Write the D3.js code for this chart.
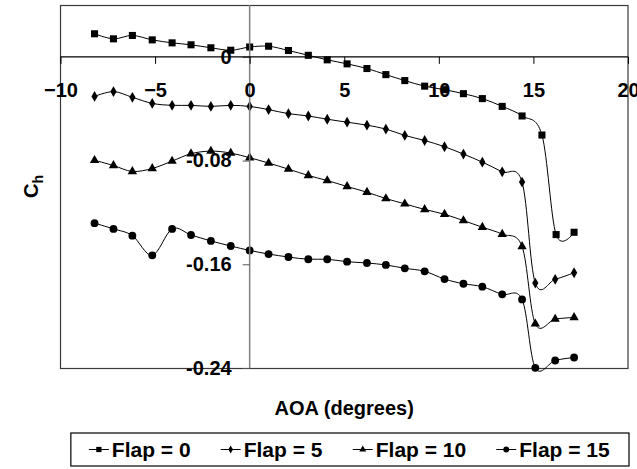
<!DOCTYPE html>
<html>
<head>
<meta charset="utf-8">
<script src="https://cdn.jsdelivr.net/npm/d3@7"></script>
<style>
  html, body { margin: 0; padding: 0; background: #fff; }
  svg { display: block; }
  text { font-family: "Liberation Sans", Arial, sans-serif; font-weight: bold; fill: #000; }
</style>
</head>
<body>
<svg id="chart" width="637" height="469"></svg>
<script>
// Hinge moment coefficient vs angle of attack for four flap settings
const aoa      = [-8.2, -7.2, -6.2, -5.15, -4.1, -3.1, -2.05, -1.0, 0, 1.0, 2.05, 3.1, 4.1, 5.15, 6.2, 7.2, 8.2, 9.25, 10.3, 11.3, 12.3, 13.35, 14.4, 15.1, 16.15, 17.15];
const aoaFlap0 = [-8.2, -7.2, -6.2, -5.15, -4.1, -3.1, -2.05, -1.0, 0, 1.0, 2.05, 3.1, 4.1, 5.15, 6.2, 7.2, 8.2, 9.25, 10.3, 11.3, 12.3, 13.35, 14.4, 15.45, 16.2, 17.15];

const flap0  = [0.0178, 0.0139, 0.0165, 0.0131, 0.0108, 0.0093, 0.0070, 0.0051, 0.0076, 0.0082, 0.0049, 0.0012, -0.0023, -0.0054, -0.0090, -0.0137, -0.0183, -0.0226, -0.0253, -0.0284, -0.0322, -0.0382, -0.0456, -0.0603, -0.1371, -0.1353];
const flap5  = [-0.0305, -0.0268, -0.0312, -0.0359, -0.0374, -0.0374, -0.0382, -0.0374, -0.0382, -0.0407, -0.0438, -0.0456, -0.0481, -0.0504, -0.0527, -0.0557, -0.0606, -0.0645, -0.0693, -0.0750, -0.0812, -0.0887, -0.0966, -0.1745, -0.1716, -0.1665];
const flap10 = [-0.0798, -0.0838, -0.0884, -0.0861, -0.0804, -0.0747, -0.0727, -0.0742, -0.0778, -0.0819, -0.0866, -0.0915, -0.0954, -0.1000, -0.1044, -0.1093, -0.1134, -0.1177, -0.1214, -0.1263, -0.1314, -0.1368, -0.1463, -0.2059, -0.2023, -0.2010];
const flap15 = [-0.1283, -0.1327, -0.1379, -0.1531, -0.1327, -0.1374, -0.1420, -0.1459, -0.1493, -0.1521, -0.1544, -0.1561, -0.1561, -0.1580, -0.1590, -0.1605, -0.1631, -0.1654, -0.1714, -0.1750, -0.1773, -0.1832, -0.1871, -0.2399, -0.2342, -0.2319];

const seriesNames = ["Flap = 0", "Flap = 5", "Flap = 10", "Flap = 15"];
const xTicks = [-10, -5, 0, 5, 10, 15, 20];
const yTicks = [0, -0.08, -0.16, -0.24];
const yTickLabels = ["0", "-0.08", "-0.16", "-0.24"];

const series = [
  { name: seriesNames[0], xs: aoaFlap0, ys: flap0,  symbol: d3.symbolSquare,   size: 50 },
  { name: seriesNames[1], xs: aoa,      ys: flap5,  symbol: d3.symbolDiamond,  size: 34 },
  { name: seriesNames[2], xs: aoa,      ys: flap10, symbol: d3.symbolTriangle, size: 38 },
  { name: seriesNames[3], xs: aoa,      ys: flap15, symbol: d3.symbolCircle,   size: 48 }
];

const svg = d3.select("#chart");
const plot = { left: 60.5, right: 628, top: 5, bottom: 368 };

const x = d3.scaleLinear().domain([-10, 20]).range([plot.left, plot.right]);
const y = d3.scaleLinear().domain([-0.24, 0.04]).range([plot.bottom, plot.top]);

// plot frame
svg.append("rect")
  .attr("x", plot.left).attr("y", plot.top + 0.5)
  .attr("width", plot.right - plot.left).attr("height", plot.bottom - plot.top)
  .attr("fill", "none").attr("stroke", "#3a3a3a").attr("stroke-width", 1.2);

// series curves and markers
const line = d3.line().x(d => x(d[0])).y(d => y(d[1])).curve(d3.curveCardinal.tension(0));
series.forEach(s => {
  const pts = s.xs.map((v, i) => [v, s.ys[i]]);
  svg.append("path").attr("d", line(pts))
    .attr("fill", "none").attr("stroke", "#000").attr("stroke-width", 1);
  svg.append("g").selectAll("path").data(pts).join("path")
    .attr("transform", d => `translate(${x(d[0])},${y(d[1])})`)
    .attr("d", d3.symbol(s.symbol, s.size))
    .attr("fill", "#000");
});

// vertical axis through AOA = 0
const yAxis = d3.axisLeft(y).tickValues(yTicks)
  .tickFormat((d, i) => yTickLabels[i]).tickSize(7).tickPadding(11);
const gy = svg.append("g").attr("transform", `translate(${x(0)},0)`).call(yAxis);
gy.select(".domain").attr("stroke", "#808080").attr("stroke-width", 1.5)
  .attr("d", `M0,${plot.top}V${plot.bottom}`);
gy.selectAll(".tick line").attr("stroke", "#555");
gy.selectAll(".tick text").style("font-size", "20px").style("font-family", null);

// horizontal axis through Ch = 0
const xAxis = d3.axisBottom(x).tickValues(xTicks).tickFormat(d3.format("d"))
  .tickSize(7).tickPadding(19);
const gx = svg.append("g").attr("transform", `translate(0,${y(0)})`).call(xAxis);
gx.select(".domain").attr("stroke", "#000").attr("stroke-width", 1.2)
  .attr("d", `M${plot.left},0H${plot.right}`);
gx.selectAll(".tick line").attr("stroke", "#000");
gx.selectAll(".tick text").style("font-size", "20px").style("font-family", null);

// axis titles
svg.append("text")
  .attr("x", (plot.left + plot.right) / 2).attr("y", 415)
  .attr("text-anchor", "middle").style("font-size", "20px")
  .text("AOA (degrees)");

const yt = svg.append("text")
  .attr("transform", `translate(38,${(plot.top + plot.bottom) / 2}) rotate(-90)`)
  .attr("text-anchor", "middle").style("font-size", "20px");
yt.append("tspan").text("C");
yt.append("tspan").attr("dy", 5).style("font-size", "14px").text("h");

// legend
const legend = svg.append("g");
const legTop = 433, legBottom = 466, legRight = 629;
const items = legend.selectAll("g").data(series).join("g");
items.append("line").attr("x1", 0).attr("x2", 20).attr("y1", 0).attr("y2", 0)
  .attr("stroke", "#000").attr("stroke-width", 1);
items.append("path").attr("transform", "translate(10,0)")
  .attr("d", s => d3.symbol(s.symbol, s.size * 0.55)()).attr("fill", "#000");
items.append("text").attr("x", 23).attr("y", 7.5).style("font-size", "21px").text(s => s.name);

const gap = 30;
const widths = [];
items.each(function () { widths.push(this.getBBox().width); });
const total = d3.sum(widths) + gap * (widths.length - 1);
const padR = 19;
let cx = legRight - padR - total;
items.attr("transform", (d, i) => {
  const t = `translate(${cx},${(legTop + legBottom) / 2})`;
  cx += widths[i] + gap;
  return t;
});
legend.insert("rect", ":first-child")
  .attr("x", legRight - padR - total - 18).attr("y", legTop)
  .attr("width", total + padR + 18).attr("height", legBottom - legTop)
  .attr("fill", "#fff").attr("stroke", "#000").attr("stroke-width", 1.2);
</script>
</body>
</html>
